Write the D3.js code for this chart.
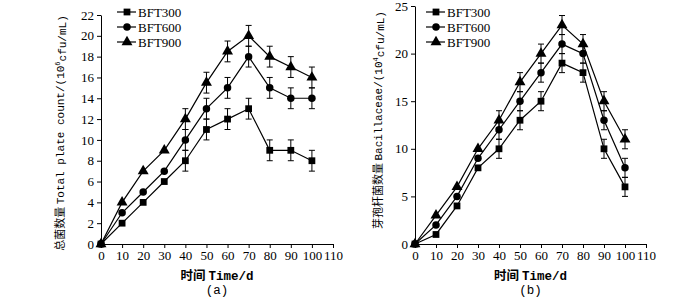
<!DOCTYPE html>
<html>
<head>
<meta charset="utf-8">
<script src="https://cdn.jsdelivr.net/npm/d3@7"></script>
<style>
  body { margin: 0; background: #fff; }
  svg text { fill: #000; }
  .tick text { font-family: "Liberation Serif", "DejaVu Serif", serif; font-size: 13px; }
  .axis path, .axis line { stroke: #000; stroke-width: 1; }
</style>
</head>
<body>
<svg id="chart" width="700" height="297"></svg>
<script>
// days sampled
var days = [0, 10, 20, 30, 40, 50, 60, 70, 80, 90, 100];
var seriesNames = ["BFT300", "BFT600", "BFT900"];

// (a) total plate count, 10^6 cfu/mL
var totalBFT300 = [0, 2, 4, 6, 8, 11, 12, 13, 9, 9, 8];
var totalBFT600 = [0, 3, 5, 7, 10, 13, 15, 18, 15, 14, 14];
var totalBFT900 = [0, 4, 7, 9, 12, 15.5, 18.5, 20, 18, 17, 16];
var totalErr = [0, 0, 0, 0, 1, 1, 1, 1, 1, 1, 1];

// (b) Bacillaceae, 10^4 cfu/mL
var bacBFT300 = [0, 1, 4, 8, 10, 13, 15, 19, 18, 10, 6];
var bacBFT600 = [0, 2, 5, 9, 12, 15, 18, 21, 20, 13, 8];
var bacBFT900 = [0, 3, 6, 10, 13, 17, 20, 23, 21, 15, 11];
var bacErr = [0, 0, 0, 0, 1, 1, 1, 1, 1, 1, 1];

var xTicks = [0, 10, 20, 30, 40, 50, 60, 70, 80, 90, 100, 110];
var yTicksA = [0, 2, 4, 6, 8, 10, 12, 14, 16, 18, 20, 22];
var yTicksB = [0, 5, 10, 15, 20, 25];

var svg = d3.select("#chart");

function symbolFor(i) {
  return [d3.symbolSquare, d3.symbolCircle, d3.symbolTriangle][i];
}
function symbolSize(i) {
  return [46, 44, 52][i];
}

function drawPanel(opts) {
  var g = svg.append("g");

  var x = d3.scaleLinear().domain([0, 110]).range([opts.left, opts.right]);
  var y = d3.scaleLinear().domain([0, opts.yMax]).range([opts.bottom, opts.top]);

  g.append("g")
      .attr("class", "axis")
      .attr("transform", "translate(0," + opts.bottom + ")")
      .call(d3.axisBottom(x).tickValues(xTicks).tickSize(4).tickSizeOuter(0).tickPadding(3));

  g.append("g")
      .attr("class", "axis")
      .attr("transform", "translate(" + opts.left + ",0)")
      .call(d3.axisLeft(y).tickValues(opts.yTicks).tickSize(4).tickSizeOuter(0).tickPadding(3));

  var line = d3.line()
      .x(function(d, i) { return x(days[i]); })
      .y(function(d) { return y(d); });

  opts.series.forEach(function(vals, s) {
    g.append("path")
        .datum(vals)
        .attr("d", line)
        .attr("fill", "none")
        .attr("stroke", "#000")
        .attr("stroke-width", 1.2);

    // error bars
    var eb = g.append("g").attr("stroke", "#000").attr("stroke-width", 1);
    vals.forEach(function(v, i) {
      var e = opts.err[i];
      if (!e) return;
      var cx = x(days[i]);
      eb.append("line").attr("x1", cx).attr("x2", cx).attr("y1", y(v - e)).attr("y2", y(v + e));
      eb.append("line").attr("x1", cx - 3).attr("x2", cx + 3).attr("y1", y(v - e)).attr("y2", y(v - e));
      eb.append("line").attr("x1", cx - 3).attr("x2", cx + 3).attr("y1", y(v + e)).attr("y2", y(v + e));
    });

    g.selectAll(null)
        .data(vals)
        .enter().append("path")
          .attr("d", d3.symbol().type(symbolFor(s)).size(symbolSize(s)))
          .attr("transform", function(d, i) { return "translate(" + x(days[i]) + "," + y(d) + ")"; })
          .attr("fill", "#000");
  });

  // legend
  seriesNames.forEach(function(name, s) {
    var ly = opts.legendY + s * 15;
    g.append("line")
        .attr("x1", opts.legendX).attr("x2", opts.legendX + 19)
        .attr("y1", ly).attr("y2", ly)
        .attr("stroke", "#000").attr("stroke-width", 1.2);
    g.append("path")
        .attr("d", d3.symbol().type(symbolFor(s)).size(symbolSize(s)))
        .attr("transform", "translate(" + (opts.legendX + 10) + "," + ly + ")");
    g.append("text")
        .attr("x", opts.legendX + 21)
        .attr("y", ly)
        .attr("dy", "0.35em")
        .style("font-family", "'Liberation Serif', serif")
        .style("font-size", "13px")
        .text(name);
  });

  // axis titles
  var xt = g.append("text")
      .attr("x", (opts.left + opts.right) / 2)
      .attr("y", 280)
      .attr("text-anchor", "middle")
      .style("font-size", "12.5px");
  xt.append("tspan").style("font-family", "'Noto Sans CJK SC'").style("font-weight", "bold").text("时间 ");
  xt.append("tspan").style("font-family", "'Liberation Mono', monospace").style("font-weight", "bold").text("Time/d");

  g.append("text")
      .attr("x", (opts.left + opts.right) / 2)
      .attr("y", 294)
      .attr("text-anchor", "middle")
      .style("font-family", "'Liberation Mono', monospace")
      .style("font-size", "12.5px")
      .text(opts.label);

  var yt = g.append("text")
      .attr("transform", "translate(" + opts.titleX + "," + opts.titleY + ") rotate(-90)")
      .attr("text-anchor", "middle")
      .attr("dy", "0.35em")
      .style("font-size", "11px");
  yt.append("tspan").style("font-family", "'Noto Sans CJK SC'").text(opts.titleCn + " ");
  yt.append("tspan").style("font-family", "'Liberation Mono', monospace").text(opts.titleEn + "/(10");
  yt.append("tspan").style("font-family", "'Liberation Mono', monospace").style("font-size", "7px").attr("dy", "-0.5em").text(opts.exp);
  yt.append("tspan").style("font-family", "'Liberation Mono', monospace").attr("dy", "0.5em").text("cfu/mL)");
}

drawPanel({
  left: 101, right: 333, top: 15, bottom: 244, yMax: 22, yTicks: yTicksA,
  series: [totalBFT300, totalBFT600, totalBFT900], err: totalErr,
  legendX: 117, legendY: 12, label: "(a)",
  titleX: 60, titleY: 133, titleCn: "总菌数量", titleEn: "Total plate count", exp: "6"
});

drawPanel({
  left: 415, right: 646, top: 6, bottom: 244, yMax: 25, yTicks: yTicksB,
  series: [bacBFT300, bacBFT600, bacBFT900], err: bacErr,
  legendX: 426, legendY: 12, label: "(b)",
  titleX: 378, titleY: 120, titleCn: "芽孢杆菌数量", titleEn: "Bacillaceae", exp: "4"
});
</script>
</body>
</html>
